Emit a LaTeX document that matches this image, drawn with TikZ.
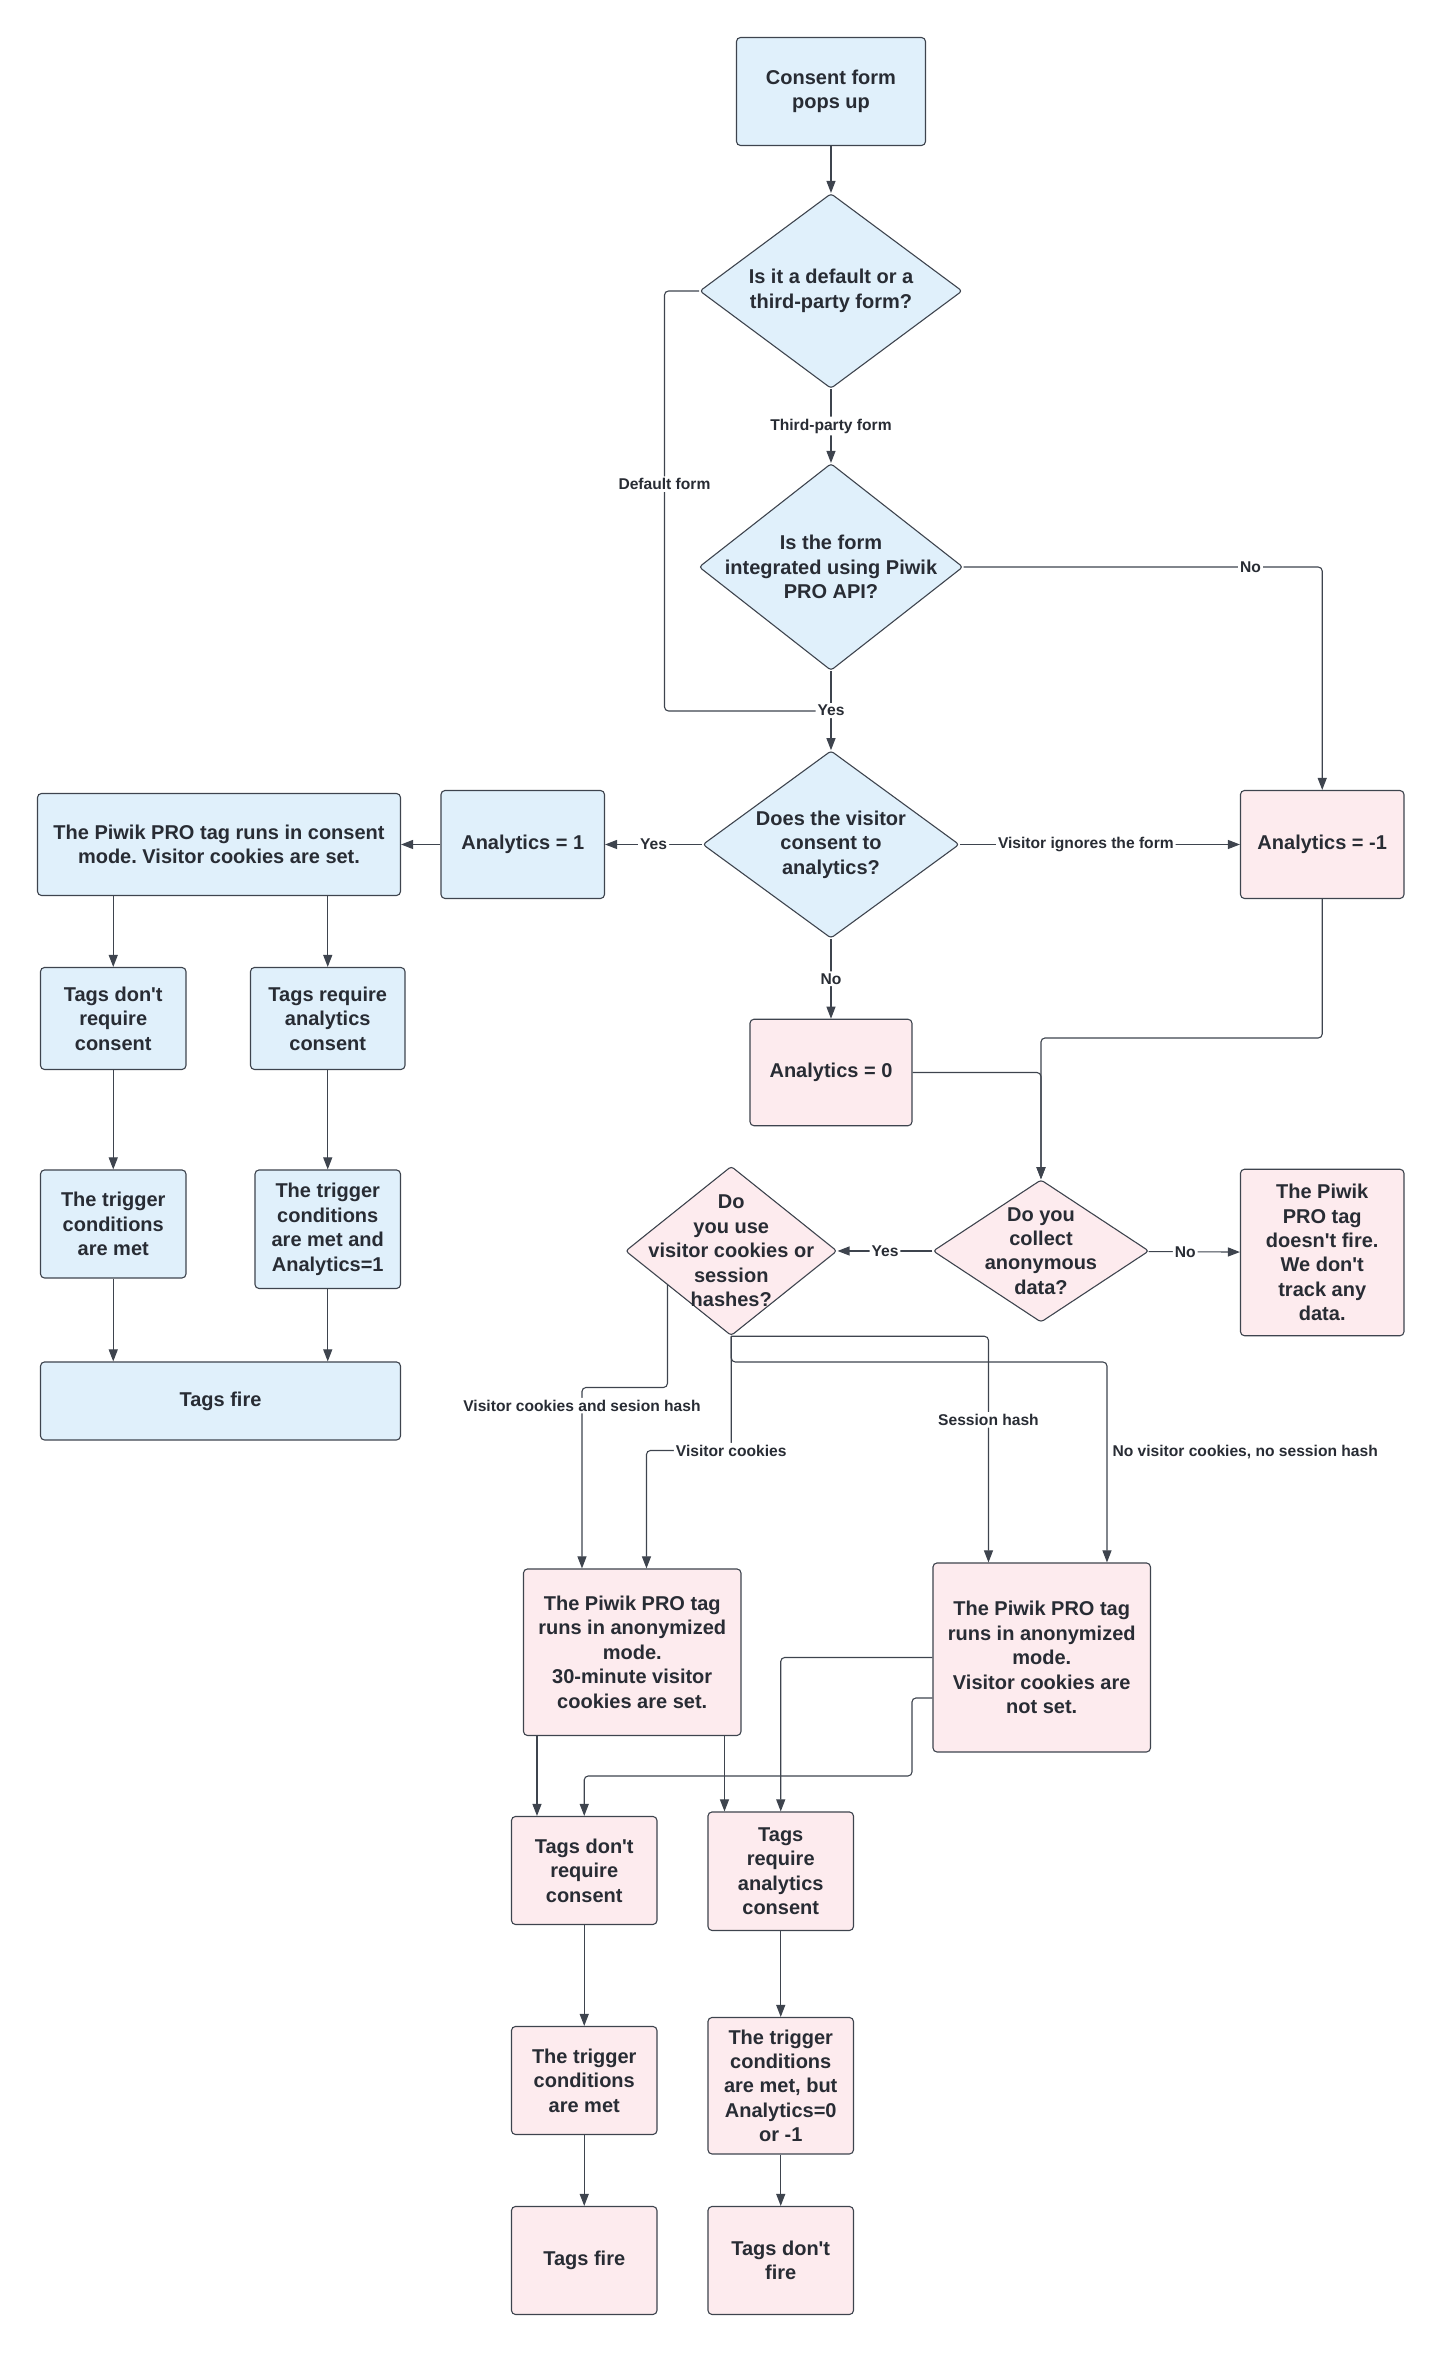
\documentclass[tikz,border=0pt]{standalone}
\usepackage{fontspec}
\setmainfont{Liberation Sans}
\frenchspacing
\usetikzlibrary{arrows.meta,shapes.geometric,calc}
\definecolor{boxblue}{RGB}{224,240,251}
\definecolor{boxpink}{RGB}{253,235,238}
\definecolor{edgegrey}{RGB}{62,68,78}
\definecolor{inkgrey}{RGB}{40,44,52}
\newcommand{\ap}{\textquotesingle}
\begin{document}
\begin{tikzpicture}[x=0.75pt,y=-0.75pt,
    every node/.style={text=inkgrey},
    blk/.style={draw=edgegrey,line width=0.55pt,rounded corners=2pt,align=center,inner sep=1pt,
        font=\bfseries\fontsize{10}{12.2}\selectfont},
    blu/.style={blk,fill=boxblue},
    pnk/.style={blk,fill=boxpink},
    dec/.style={diamond,draw=edgegrey,line width=0.55pt,inner sep=0pt,rounded corners=1.5pt},
    dtxt/.style={align=center,inner sep=0pt,text=inkgrey,font=\bfseries\fontsize{10}{12.2}\selectfont},
    ln/.style={draw=edgegrey,line width=0.55pt,rounded corners=2pt},
    arr/.style={ln,-{Triangle[length=6pt,width=4.5pt]}},
    lbl/.style={fill=white,inner sep=1pt,font=\bfseries\fontsize{7.8}{8.5}\selectfont}]
\useasboundingbox (0,0) rectangle (960,1568.7);

\node[blu,minimum width=94.5pt,minimum height=54pt] (cf) at (554,61) {Consent form\\pops up};
\node[dec,fill=boxblue,minimum width=131.25pt,minimum height=97.5pt,
    label={[dtxt]center:{Is it a default or a\\third-party form?}}] (q1) at (554,194) {};
\node[dec,fill=boxblue,minimum width=132pt,minimum height=103.5pt,
    label={[dtxt]center:{Is the form\\integrated using Piwik\\PRO API?}}] (q2) at (554,378) {};
\node[dec,fill=boxblue,minimum width=128.25pt,minimum height=93.75pt,
    label={[dtxt]center:{Does the visitor\\consent to\\analytics?}}] (q3) at (554,563) {};
\node[blu,minimum width=81.75pt,minimum height=54pt] (an1) at (348.5,563) {Analytics = 1};
\node[blu,minimum width=181.5pt,minimum height=51pt] (cmode) at (146,563) {The Piwik PRO tag runs in consent\\mode. Visitor cookies are set.};
\node[pnk,minimum width=81.75pt,minimum height=54pt] (anm) at (881.5,563) {Analytics = -1};
\node[pnk,minimum width=81pt,minimum height=53.25pt] (an0) at (554,715) {Analytics = 0};

\node[blu,minimum width=72.75pt,minimum height=51pt] (nocons) at (75.5,679) {Tags don\ap t\\require\\consent};
\node[blu,minimum width=77.25pt,minimum height=51pt] (reqcons) at (218.5,679) {Tags require\\analytics\\consent};
\node[blu,minimum width=72.75pt,minimum height=54pt] (trig) at (75.5,816) {The trigger\\conditions\\are met};
\node[blu,minimum width=72.75pt,minimum height=59.25pt] (trigan) at (218.5,819.5) {The trigger\\conditions\\are met and\\Analytics=1};
\node[blu,minimum width=180pt,minimum height=39pt] (fire) at (147,934) {Tags fire};

\node[dec,fill=boxpink,minimum width=108pt,minimum height=71.25pt,
    label={[dtxt]center:{Do you\\collect\\anonymous\\data?}}] (q4) at (694,834) {};
\node[pnk,minimum width=81.75pt,minimum height=83.25pt] (nofire) at (881.5,835) {The Piwik\\PRO tag\\doesn\ap t fire.\\We don\ap t\\track any\\data.};
\node[dec,fill=boxpink,minimum width=105.75pt,minimum height=84.75pt,
    label={[dtxt]center:{Do\\you use\\visitor cookies or\\session\\hashes?}}] (q5) at (487.5,834) {};

\node[pnk,minimum width=108.75pt,minimum height=83.25pt] (anonA) at (421.5,1101.5) {The Piwik PRO tag\\runs in anonymized\\mode.\\30-minute visitor\\cookies are set.};
\node[pnk,minimum width=108.75pt,minimum height=94.5pt] (anonB) at (694.5,1105) {The Piwik PRO tag\\runs in anonymized\\mode.\\Visitor cookies are\\not set.};
\node[pnk,minimum width=72.75pt,minimum height=54pt] (pnocons) at (389.5,1247) {Tags don\ap t\\require\\consent};
\node[pnk,minimum width=72.75pt,minimum height=59.25pt] (preqcons) at (520.5,1247.5) {Tags\\require\\analytics\\consent};
\node[pnk,minimum width=72.75pt,minimum height=54pt] (ptrig) at (389.5,1387) {The trigger\\conditions\\are met};
\node[pnk,minimum width=72.75pt,minimum height=68.25pt] (ptrigan) at (520.5,1390.5) {The trigger\\conditions\\are met, but\\Analytics=0\\or -1};
\node[pnk,minimum width=72.75pt,minimum height=54pt] (pfire) at (389.5,1507) {Tags fire};
\node[pnk,minimum width=72.75pt,minimum height=54pt] (pnofire) at (520.5,1507) {Tags don\ap t\\fire};

\coordinate (join) at (554,474);
\coordinate (deflt) at (443,474);
\coordinate (merge) at (694,692);
\coordinate (bothx) at (388,925);
\coordinate (cookx) at (431,967);
\coordinate (sessx) at (659,890);
\coordinate (nonex) at (738,908);
\coordinate (bendB) at (608,1184);
\coordinate (outA1) at ($(anonA.south)+(-63.5,0)$);
\coordinate (outA2) at ($(anonA.south)+(61.5,0)$);
\coordinate (outB) at ($(anonB.west)+(0,27)$);

\draw[arr] (cf) -- (q1);
\draw[arr] (q1) -- node[lbl]{Third-party form} (q2);
\draw[ln] (q1.west) -| node[lbl,pos=0.73]{Default form} (deflt) -- (join);
\draw[arr] (q2) -- node[lbl]{Yes} (q3);
\draw[arr] (q2.east) -| node[lbl,pos=0.4]{No} (anm.north);
\draw[arr] (q3) -- node[lbl]{Yes} (an1);
\draw[arr] (an1) -- (cmode);
\draw[arr] (q3) -- node[lbl,pos=0.45]{Visitor ignores the form} (anm);
\draw[arr] (q3) -- node[lbl]{No} (an0);
\draw[arr] (an0.east) -| (q4.north);
\draw[arr] (anm.south) |- (merge) -- (q4.north);
\draw[arr] (q4) -- node[lbl,pos=0.4]{No} (nofire);
\draw[arr] (q4) -- node[lbl]{Yes} (q5);

\draw[arr] ($(q5.west)!0.4!(q5.south)$) |- (bothx) -- node[lbl,pos=0.1]{Visitor cookies and sesion hash} (bothx |- anonA.north);
\draw[arr] (q5.south) |- node[lbl,pos=0.5]{Visitor cookies} (cookx) -- (cookx |- anonA.north);
\draw[arr] (q5.south) -| node[lbl,pos=0.685]{Session hash} (sessx |- anonB.north);
\draw[arr] (q5.south) |- (nonex) -- node[lbl,fill=none,anchor=west,xshift=1.5pt,pos=0.45]{No visitor cookies, no session hash} (nonex |- anonB.north);

\draw[arr] (outA1) -- (outA1 |- pnocons.north);
\draw[arr] (outA2) -- (outA2 |- preqcons.north);
\draw[arr] (anonB.west) -| (preqcons.north);
\draw[arr] (outB) -| (bendB) -| (pnocons.north);
\draw[arr] (pnocons) -- (ptrig);
\draw[arr] (ptrig) -- (pfire);
\draw[arr] (preqcons) -- (ptrigan);
\draw[arr] (ptrigan) -- (pnofire);

\draw[arr] (nocons.north |- cmode.south) -- (nocons.north);
\draw[arr] (reqcons.north |- cmode.south) -- (reqcons.north);
\draw[arr] (nocons) -- (trig);
\draw[arr] (reqcons) -- (trigan);
\draw[arr] (trig.south) -- (trig.south |- fire.north);
\draw[arr] (trigan.south) -- (trigan.south |- fire.north);
\end{tikzpicture}
\end{document}
